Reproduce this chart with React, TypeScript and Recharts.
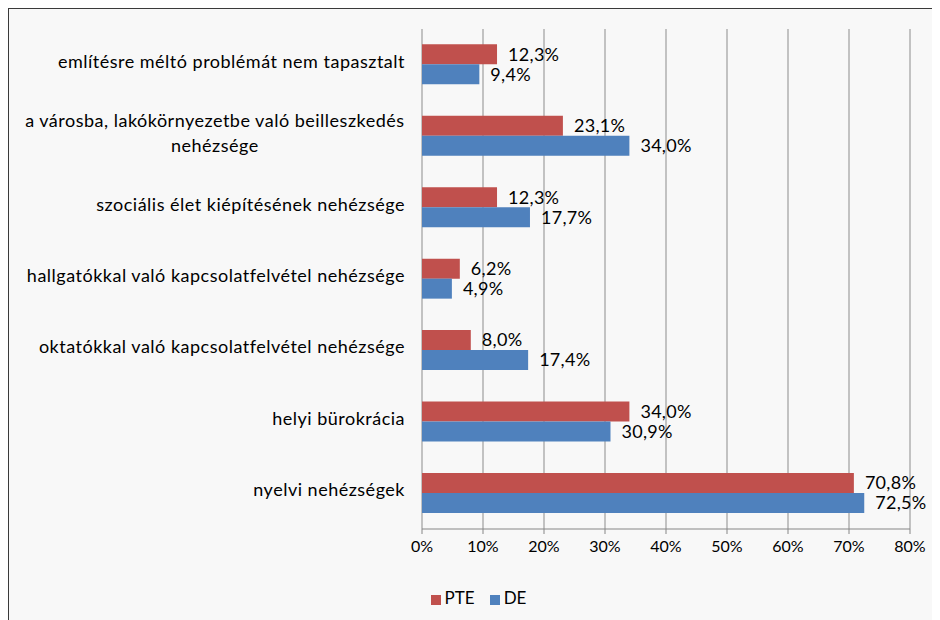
import { BarChart, Bar, XAxis, YAxis, CartesianGrid, Legend, LabelList } from "recharts";

const categories = [
  "említésre méltó problémát nem tapasztalt",
  "a városba, lakókörnyezetbe való beilleszkedés\nnehézsége",
  "szociális élet kiépítésének nehézsége",
  "hallgatókkal való kapcsolatfelvétel nehézsége",
  "oktatókkal való kapcsolatfelvétel nehézsége",
  "helyi bürokrácia",
  "nyelvi nehézségek",
];
const pte = [12.3, 23.1, 12.3, 6.2, 8.0, 34.0, 70.8];
const de = [9.4, 34.0, 17.7, 4.9, 17.4, 30.9, 72.5];
const xTicks = [0, 10, 20, 30, 40, 50, 60, 70, 80];
const boundaries = [0, 1, 2, 3, 4, 5, 6, 7];
const seriesOrder = ["PTE", "DE"];

const data = categories.map((name, i) => ({ name, PTE: pte[i], DE: de[i] }));

const FONT = "Lato, 'Open Sans', sans-serif";
const AXIS = "#868686";
const CAT_SIZE = 18;
const CAT_SPACING = 0.5;

const ctx = typeof document !== "undefined" ? document.createElement("canvas").getContext("2d") : null;
const textWidth = (s: string, size: number) => {
  const base = ctx ? ((ctx.font = `${size}px Lato`), ctx.measureText(s).width) : s.length * size * 0.5;
  return base + s.length * CAT_SPACING;
};

const fmt = (v: any) => `${Number(v).toFixed(1).replace(".", ",")}%`;

const CategoryTick = (props: any) => {
  const { x, y, payload } = props;
  const lines = String(payload.value).split("\n");
  const w0 = textWidth(lines[0], CAT_SIZE);
  const lh = 25;
  const y0 = y - 4 - ((lines.length - 1) * lh) / 2;
  return (
    <g>
      {lines.map((l, i) => (
        <text key={i} x={x - w0 / 2} y={y0 + i * lh} textAnchor="middle" dominantBaseline="central"
          fontSize={CAT_SIZE} fontFamily={FONT} fill="#000" letterSpacing={CAT_SPACING}>
          {l}
        </text>
      ))}
    </g>
  );
};

const labelStyle = { fill: "#000", fontSize: 18, fontFamily: FONT, letterSpacing: 0.3 };

export default function App() {
  return (
    <div style={{ width: 932, height: 612, boxSizing: "border-box", borderTop: "1px solid #3a3a3a", borderLeft: "1px solid #3a3a3a", background: "#f8f8f8" }}>
      <BarChart width={931} height={611} data={data} layout="vertical"
        margin={{ top: 20, right: 30, left: 0, bottom: 30 }}
        barCategoryGap="21.5%" barGap={0}>
        <CartesianGrid horizontal={false} stroke="#8c8c8c" yAxisId="cat" />
        <XAxis type="number" domain={[0, 80]} ticks={xTicks} tickFormatter={(v) => `${v}%`}
          axisLine={{ stroke: AXIS }} tickLine={{ stroke: AXIS }} tickSize={5} tickMargin={7} height={40}
          tick={{ fill: "#000", fontSize: 16, fontFamily: FONT }} />
        <YAxis yAxisId="grid" type="number" domain={[0, 7]} ticks={boundaries} reversed width={0}
          tick={false} tickSize={6} tickLine={{ stroke: AXIS }} axisLine={{ stroke: AXIS }} />
        <YAxis yAxisId="cat" type="category" dataKey="name" width={413} axisLine={false} tickLine={false}
          tickSize={0} tickMargin={17} interval={0} tick={<CategoryTick />} />
        <Legend verticalAlign="bottom" iconType="square" iconSize={10}
          itemSorter={(item: any) => seriesOrder.indexOf(item.value)}
          wrapperStyle={{ bottom: 12, left: 24, fontFamily: FONT, fontSize: 17 }}
          formatter={(v) => <span style={{ color: "#000", paddingRight: v === "PTE" ? 5 : 0 }}>{v}</span>} />
        <Bar yAxisId="cat" dataKey="PTE" fill="#C0504D" isAnimationActive={false}>
          <LabelList dataKey="PTE" position="right" offset={11} formatter={fmt} {...labelStyle} />
        </Bar>
        <Bar yAxisId="cat" dataKey="DE" fill="#4F81BD" isAnimationActive={false}>
          <LabelList dataKey="DE" position="right" offset={11} formatter={fmt} {...labelStyle} />
        </Bar>
      </BarChart>
    </div>
  );
}
